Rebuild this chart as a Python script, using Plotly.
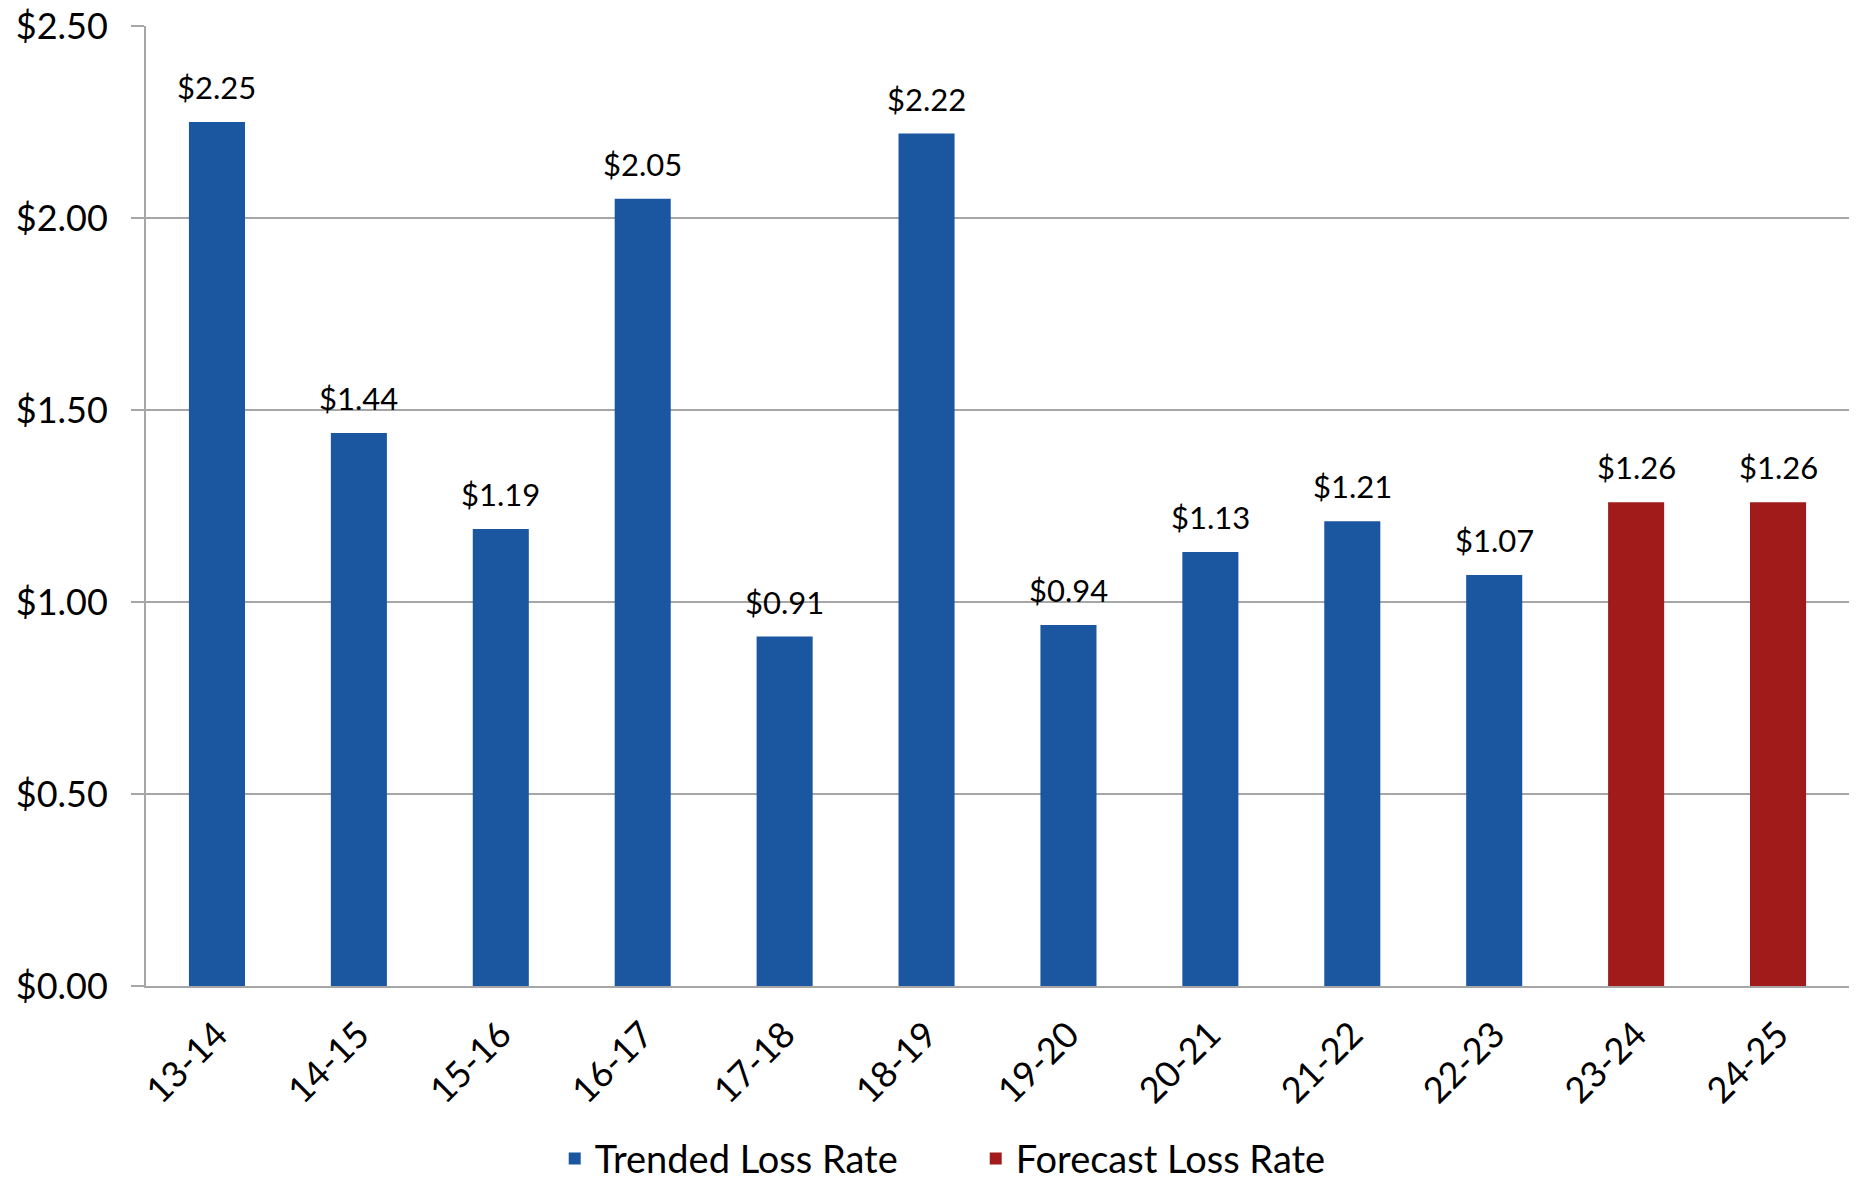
import plotly.graph_objects as go

categories = ["13-14", "14-15", "15-16", "16-17", "17-18", "18-19",
              "19-20", "20-21", "21-22", "22-23", "23-24", "24-25"]
trended_cats = categories[:10]
trended_vals = [2.25, 1.44, 1.19, 2.05, 0.91, 2.22, 0.94, 1.13, 1.21, 1.07]
forecast_cats = categories[10:]
forecast_vals = [1.26, 1.26]

BLUE = "#1A57A0"
RED = "#A01B1A"
GRID = "#A6A6A6"
FONT = "Lato"

fig = go.Figure()
fig.add_trace(go.Bar(x=trended_cats, y=trended_vals, name="Trended Loss Rate",
                     marker=dict(color=BLUE, line=dict(width=0))))
fig.add_trace(go.Bar(x=forecast_cats, y=forecast_vals, name="Forecast Loss Rate",
                     marker=dict(color=RED, line=dict(width=0))))

for cats, vals in ((trended_cats, trended_vals), (forecast_cats, forecast_vals)):
    for c, v in zip(cats, vals):
        fig.add_annotation(x=c, y=v, text=f"${v:.2f}", showarrow=False,
                           yanchor="bottom", yshift=14,
                           font=dict(family=FONT, size=31, color="#000000"))

fig.update_layout(
    width=1858, height=1180,
    margin=dict(l=146, r=9, t=26, b=194, autoexpand=False),
    paper_bgcolor="white", plot_bgcolor="white",
    barmode="overlay", bargap=0.605,
    font=dict(family=FONT, color="#000000"),
    showlegend=True,
    legend=dict(orientation="h", x=0.24, xanchor="left",
                yref="container", y=0.018, yanchor="middle",
                entrywidth=376, entrywidthmode="pixels",
                font=dict(family=FONT, size=38, color="#000000"),
                bgcolor="rgba(0,0,0,0)", traceorder="normal"),
    xaxis=dict(type="category", categoryorder="array", categoryarray=categories,
               tickangle=-45, tickfont=dict(family=FONT, size=36, color="#000000"),
               showline=True, linecolor=GRID, linewidth=2, showgrid=False,
               ticks="", ticklabelstandoff=11, automargin=False),
    yaxis=dict(range=[0, 2.5], dtick=0.5, tickformat="$.2f",
               tickfont=dict(family=FONT, size=36, color="#000000"),
               showline=True, linecolor=GRID, linewidth=2,
               showgrid=True, gridcolor=GRID, gridwidth=1.5, zeroline=False,
               ticks="outside", ticklen=13, tickcolor=GRID, tickwidth=1.5,
               ticklabelstandoff=16, automargin=False),
)

fig.write_html("out.html")
